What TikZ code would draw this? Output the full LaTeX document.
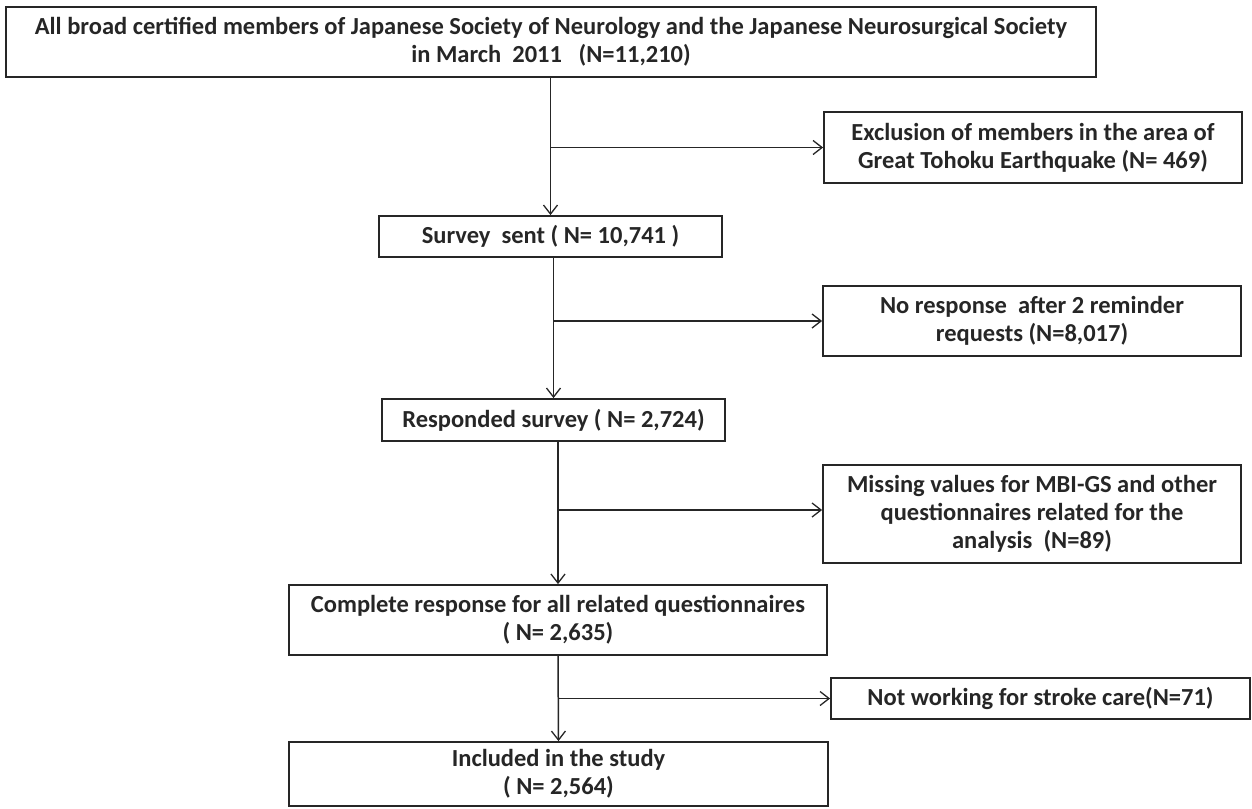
\documentclass[tikz,border=0pt]{standalone}
\usepackage{fontspec}
\setmainfont{Carlito}
\usetikzlibrary{arrows.meta}
\begin{document}
\begin{tikzpicture}[x=1pt,y=-1pt,
  box/.style={draw=black!85, line width=1.8pt, rectangle, inner sep=0pt, align=center,
    font=\fontsize{24.5}{28}\selectfont\bfseries, text=black!85},
  conn/.style={draw=black!85, line width=1.5pt, -{Straight Barb[length=9pt,width=14pt,line width=1.3pt]}}
]
\useasboundingbox (0,0) rectangle (1252,808);
\node[box, minimum width=1090pt, minimum height=70pt] (top) at (551,42)
  {All broad certified members of Japanese Society of Neurology and the Japanese Neurosurgical Society\\ in March\ \ 2011\ \ \ (N=11,210)};
\node[box, minimum width=418pt, minimum height=71pt] (excl) at (1033,147.5)
  {Exclusion of members in the area of\\ Great Tohoku Earthquake (N= 469)};
\node[box, minimum width=343pt, minimum height=41pt] (survey) at (550.5,236.5)
  {Survey\ \ sent ( N= 10,741 )};
\node[box, minimum width=418pt, minimum height=70pt] (noresp) at (1032,321)
  {No response\ \ after 2 reminder\\ requests (N=8,017)};
\node[box, minimum width=343pt, minimum height=42pt] (resp) at (553.5,420)
  {Responded survey ( N= 2,724)};
\node[box, minimum width=418pt, minimum height=98pt] (miss) at (1032,514)
  {Missing values for MBI-GS and other\\ questionnaires related for the\\ analysis\ \ (N=89)};
\node[box, minimum width=538pt, minimum height=70pt] (comp) at (558,620)
  {Complete response for all related questionnaires\\ ( N= 2,635)};
\node[box, minimum width=419pt, minimum height=41pt] (notw) at (1040.5,698.5)
  {Not working for stroke care(N=71)};
\node[box, minimum width=539pt, minimum height=64pt] (incl) at (558.5,774)
  {Included in the study\\ ( N= 2,564)};

\coordinate (b1) at (survey.north |- excl.west);
\coordinate (b2) at (resp.north |- noresp.west);
\coordinate (b3) at (comp.north |- 0,510);
\coordinate (b4) at (incl.north |- notw.west);

\draw[conn] (top.south -| survey.north) -- (survey.north);
\draw[conn] (b1) -- (excl.west);
\draw[conn] (survey.south -| resp.north) -- (resp.north);
\draw[conn] (b2) -- (noresp.west);
\draw[conn] (resp.south -| comp.north) -- (comp.north);
\draw[conn] (b3) -- (miss.west |- b3);
\draw[conn] (comp.south) -- (incl.north);
\draw[conn] (b4) -- (notw.west);
\end{tikzpicture}
\end{document}
